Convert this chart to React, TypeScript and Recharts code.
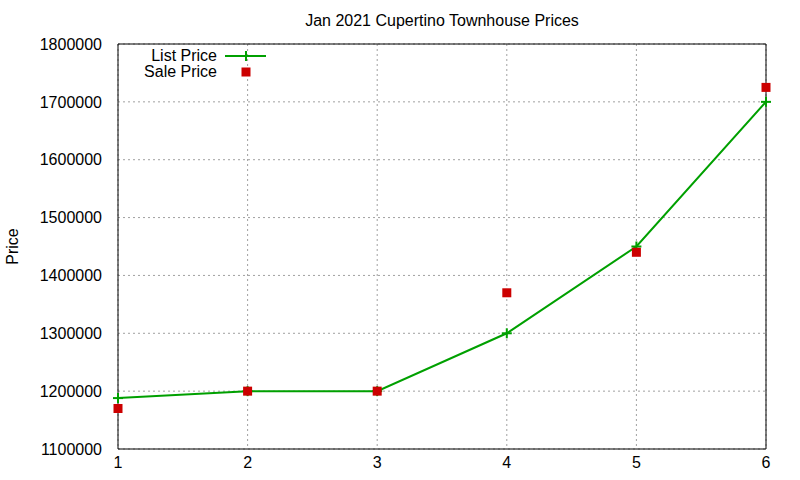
import { LineChart, Line, XAxis, YAxis, CartesianGrid, Legend } from "recharts";

// lot number along the x axis
const lots = [1, 2, 3, 4, 5, 6];
const listPrices = [1188000, 1200000, 1200000, 1300000, 1450000, 1700000];
const salePrices = [1170000, 1200000, 1200000, 1370000, 1440000, 1725000];

const xTicks = [1, 2, 3, 4, 5, 6];
const yTicks = [1100000, 1200000, 1300000, 1400000, 1500000, 1600000, 1700000, 1800000];

const GREEN = "#00a000";
const RED = "#cc0000";
const FONT = "'Liberation Sans', Arial, sans-serif";

const data = lots.map((x, i) => ({ x, list: listPrices[i], sale: salePrices[i] }));

const tickStyle = { fill: "#000", fontSize: 16 };

function PlusDot(props: any) {
  const { cx, cy } = props;
  if (cx == null || cy == null) return null;
  return (
    <g>
      <line x1={cx - 5} y1={cy} x2={cx + 5} y2={cy} stroke={GREEN} strokeWidth={2} />
      <line x1={cx} y1={cy - 5} x2={cx} y2={cy + 5} stroke={GREEN} strokeWidth={2} />
    </g>
  );
}

function SquareDot(props: any) {
  const { cx, cy } = props;
  if (cx == null || cy == null) return null;
  return <rect x={cx - 4.5} y={cy - 4.5} width={9} height={9} fill={RED} />;
}

function KeyBox() {
  return (
    <div style={{ fontFamily: FONT, fontSize: 16, color: "#000", lineHeight: "16px" }}>
      <div style={{ display: "flex", alignItems: "center", height: 16 }}>
        <span style={{ width: 99, textAlign: "right" }}>List Price</span>
        <svg width={50} height={16} style={{ marginLeft: 8 }}>
          <line x1={0} y1={8} x2={41} y2={8} stroke={GREEN} strokeWidth={2} />
          <line x1={21} y1={3} x2={21} y2={13} stroke={GREEN} strokeWidth={2} />
        </svg>
      </div>
      <div style={{ display: "flex", alignItems: "center", height: 16 }}>
        <span style={{ width: 99, textAlign: "right" }}>Sale Price</span>
        <svg width={50} height={16} style={{ marginLeft: 8 }}>
          <rect x={16.5} y={3.5} width={9} height={9} fill={RED} />
        </svg>
      </div>
    </div>
  );
}

export default function App() {
  return (
    <div
      style={{
        position: "absolute",
        left: 0,
        top: 0,
        width: 800,
        height: 480,
        background: "#fff",
        fontFamily: FONT,
      }}
    >
      <div
        style={{
          position: "absolute",
          left: 118,
          width: 648,
          top: 12,
          textAlign: "center",
          fontSize: 16,
          color: "#000",
        }}
      >
        Jan 2021 Cupertino Townhouse Prices
      </div>
      <LineChart
        width={800}
        height={480}
        data={data}
        margin={{ top: 44, right: 34, left: 0, bottom: 0 }}
      >
        <CartesianGrid
          xAxisId="bottom"
          yAxisId="left"
          stroke="#a0a0a0"
          strokeDasharray="2 3"
        />
        <XAxis
          xAxisId="bottom"
          dataKey="x"
          type="number"
          domain={[1, 6]}
          ticks={xTicks}
          height={31}
          tick={tickStyle}
          tickLine={false}
          axisLine={{ stroke: "#000", strokeWidth: 1 }}
          tickMargin={2}
        />
        <XAxis
          xAxisId="bottomTicks"
          dataKey="x"
          type="number"
          domain={[1, 6]}
          ticks={xTicks}
          height={20}
          mirror
          tick={false}
          tickSize={5}
          tickLine={{ stroke: "#000" }}
          axisLine={false}
        />
        <XAxis
          xAxisId="top"
          orientation="top"
          dataKey="x"
          type="number"
          domain={[1, 6]}
          ticks={xTicks}
          height={20}
          mirror
          tick={false}
          tickSize={5}
          tickLine={{ stroke: "#000" }}
          axisLine={{ stroke: "#000", strokeWidth: 1 }}
        />
        <YAxis
          yAxisId="left"
          type="number"
          domain={[1100000, 1800000]}
          ticks={yTicks}
          width={118}
          tick={tickStyle}
          tickLine={false}
          tickMargin={10}
          axisLine={{ stroke: "#000", strokeWidth: 1 }}
          label={{
            value: "Price",
            angle: -90,
            position: "insideLeft",
            offset: 12,
            style: { textAnchor: "middle", fontSize: 16, fill: "#000" },
          }}
        />
        <YAxis
          yAxisId="leftTicks"
          type="number"
          domain={[1100000, 1800000]}
          ticks={yTicks}
          width={20}
          mirror
          tick={false}
          tickSize={5}
          tickLine={{ stroke: "#000" }}
          axisLine={false}
        />
        <YAxis
          yAxisId="right"
          orientation="right"
          type="number"
          domain={[1100000, 1800000]}
          ticks={yTicks}
          width={20}
          mirror
          tick={false}
          tickSize={5}
          tickLine={{ stroke: "#000" }}
          axisLine={{ stroke: "#000", strokeWidth: 1 }}
        />
        <Legend
          layout="vertical"
          align="center"
          verticalAlign="middle"
          wrapperStyle={{ position: "absolute", left: 118, top: 48, width: 170 }}
          content={() => <KeyBox />}
        />
        <Line
          xAxisId="bottom"
          yAxisId="left"
          type="linear"
          dataKey="list"
          name="List Price"
          stroke={GREEN}
          strokeWidth={2}
          dot={<PlusDot />}
          activeDot={false}
          isAnimationActive={false}
        />
        <Line
          xAxisId="bottom"
          yAxisId="left"
          dataKey="sale"
          name="Sale Price"
          stroke="none"
          dot={<SquareDot />}
          activeDot={false}
          isAnimationActive={false}
        />
      </LineChart>
    </div>
  );
}
